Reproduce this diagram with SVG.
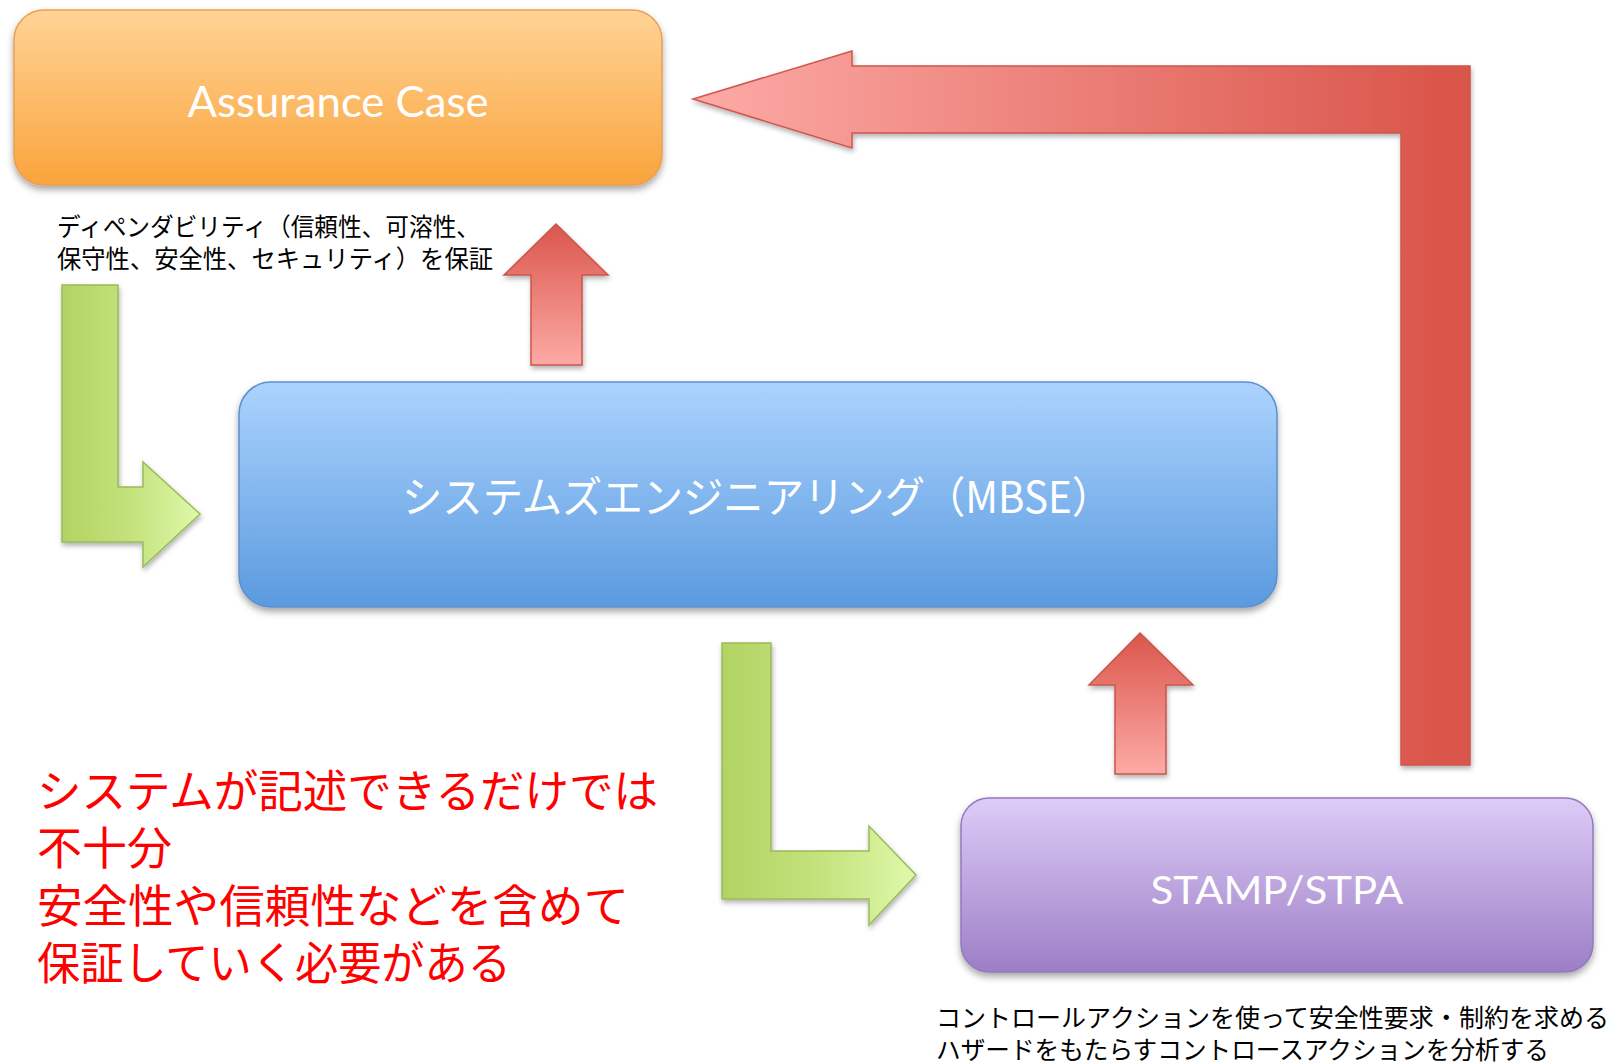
<svg xmlns="http://www.w3.org/2000/svg" width="1612" height="1063" viewBox="0 0 1612 1063">
<defs>
<linearGradient id="gOrange" x1="0" y1="0" x2="0" y2="1">
<stop offset="0" stop-color="#FFD396"/>
<stop offset="1" stop-color="#FAA43C"/>
</linearGradient>
<linearGradient id="gBlue" x1="0" y1="0" x2="0" y2="1">
<stop offset="0" stop-color="#ACD3FE"/>
<stop offset="1" stop-color="#5A9ADF"/>
</linearGradient>
<linearGradient id="gPurple" x1="0" y1="0" x2="0" y2="1">
<stop offset="0" stop-color="#DDCCF7"/>
<stop offset="1" stop-color="#9D7EC6"/>
</linearGradient>
<linearGradient id="gGreen" x1="0" y1="0" x2="1" y2="0">
<stop offset="0" stop-color="#B2D364"/>
<stop offset="0.5" stop-color="#C4E27C"/>
<stop offset="1" stop-color="#DFF9AB"/>
</linearGradient>
<linearGradient id="gRedUp" x1="0" y1="0" x2="0" y2="1">
<stop offset="0" stop-color="#DA564B"/>
<stop offset="1" stop-color="#FDAAA6"/>
</linearGradient>
<linearGradient id="gRedBig" gradientUnits="userSpaceOnUse" x1="693" y1="0" x2="1440" y2="0">
<stop offset="0" stop-color="#FDAAA6"/>
<stop offset="1" stop-color="#DA564B"/>
</linearGradient>
<filter id="sh" x="-10%" y="-10%" width="130%" height="140%">
<feDropShadow dx="0" dy="4" stdDeviation="3.5" flood-color="#000" flood-opacity="0.35"/>
</filter>
<filter id="shA" x="-10%" y="-10%" width="130%" height="130%">
<feDropShadow dx="1" dy="3" stdDeviation="2.5" flood-color="#000" flood-opacity="0.3"/>
</filter>
</defs>
<style>
.box-lbl{fill:#FFFFFF;text-anchor:middle;font-family:Lato,"Open Sans","Noto Sans",sans-serif;}
.box-jp{fill:#FFFFFF;font-family:"Noto Sans CJK JP","Noto Sans",sans-serif;}
.note{fill:#000000;font-family:"Noto Sans CJK JP",sans-serif;font-size:25px;}
.red-note{fill:#FF0000;font-family:"Noto Sans CJK JP",sans-serif;font-size:45px;}
.arrow-green{fill:url(#gGreen);stroke:#9BBB59;stroke-width:1.5;filter:url(#shA);}
.arrow-red{fill:url(#gRedUp);stroke:#C9544C;stroke-width:1.5;filter:url(#shA);}
</style>
<rect width="1612" height="1063" fill="#FFFFFF"/>

<g id="connectors">
<path id="arrow-big-red" d="M1470,66 L1470,765 L1401,765 L1401,133 L852,133 L852,148 L693,99 L852,51 L852,66 Z" fill="url(#gRedBig)" stroke="#D0564D" stroke-width="1.5" filter="url(#shA)"/>
<path id="arrow-red-up-1" class="arrow-red" d="M531,365 L531,275 L504,275 L556,224 L608,275 L582,275 L582,365 Z"/>
<path id="arrow-red-up-2" class="arrow-red" d="M1115,774 L1115,685 L1089,685 L1140,633 L1193,685 L1166,685 L1166,774 Z"/>
<path id="arrow-green-1" class="arrow-green" d="M62,285 L118,285 L118,487 L143,487 L143,462 L200,514 L143,567 L143,542 L62,542 Z"/>
<path id="arrow-green-2" class="arrow-green" d="M722,643 L771,643 L771,851 L869,851 L869,826 L916,875 L869,925 L869,899 L722,899 Z"/>
</g>

<g id="node-assurance">
<rect x="14" y="10" width="648" height="175" rx="30" ry="30" fill="url(#gOrange)" stroke="#E9A050" stroke-width="1.5" filter="url(#sh)"/>
<text class="box-lbl" x="338" y="117" font-size="42" textLength="301" lengthAdjust="spacingAndGlyphs">Assurance Case</text>
</g>

<g id="note-assurance">
<text class="note" x="57" y="236" textLength="423" lengthAdjust="spacingAndGlyphs">ディペンダビリティ（信頼性、可溶性、</text>
<text class="note" x="57" y="268" textLength="436" lengthAdjust="spacingAndGlyphs">保守性、安全性、セキュリティ）を保証</text>
</g>

<g id="node-mbse">
<rect x="239" y="382" width="1038" height="225" rx="32" ry="32" fill="url(#gBlue)" stroke="#5B90CC" stroke-width="1.5" filter="url(#sh)"/>
<text class="box-jp" x="402" y="513" font-size="43" textLength="710" lengthAdjust="spacingAndGlyphs">システムズエンジニアリング（MBSE）</text>
</g>

<g id="node-stamp">
<rect x="961" y="798" width="632" height="174" rx="28" ry="28" fill="url(#gPurple)" stroke="#9379BC" stroke-width="1.5" filter="url(#sh)"/>
<text class="box-lbl" x="1277" y="904" font-size="38" textLength="253" lengthAdjust="spacingAndGlyphs">STAMP/STPA</text>
</g>

<g id="note-stamp">
<text class="note" x="936" y="1027" font-size="24" textLength="673" lengthAdjust="spacingAndGlyphs">コントロールアクションを使って安全性要求・制約を求める</text>
<text class="note" x="936" y="1059" font-size="24" textLength="613" lengthAdjust="spacingAndGlyphs">ハザードをもたらすコントロースアクションを分析する</text>
</g>

<g id="note-red">
<text class="red-note" x="37" y="808" textLength="621" lengthAdjust="spacingAndGlyphs">システムが記述できるだけでは</text>
<text class="red-note" x="37" y="865">不十分</text>
<text class="red-note" x="37" y="923" textLength="592" lengthAdjust="spacingAndGlyphs">安全性や信頼性などを含めて</text>
<text class="red-note" x="37" y="980" textLength="474" lengthAdjust="spacingAndGlyphs">保証していく必要がある</text>
</g>
</svg>
